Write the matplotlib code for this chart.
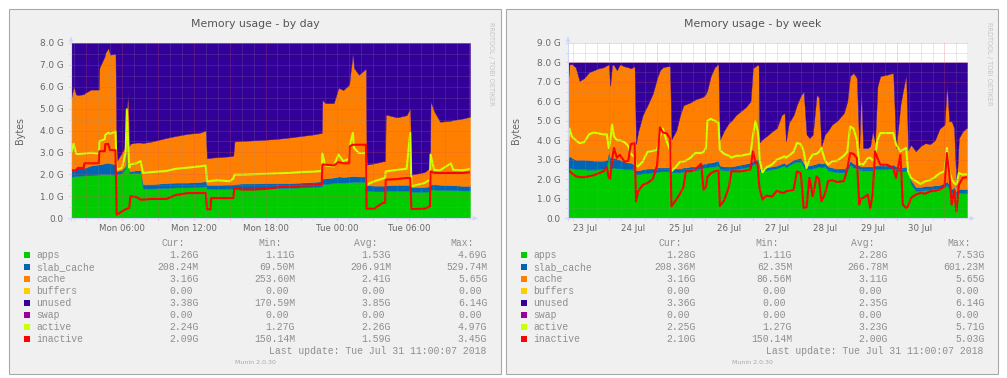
"""
Munin memory graphs (by day / by week) redrawn with matplotlib.
"""
import numpy as np
import matplotlib.pyplot as plt
from matplotlib.lines import Line2D
from matplotlib.patches import Rectangle, Polygon

W, H, DPI = 1007, 378, 100
MEM_TOTAL = 8.0  # GB, "unused" is what is left of it

SERIES = ["apps", "slab_cache", "cache", "buffers", "unused", "swap", "active", "inactive"]
SERIES_COLORS = ["#00CC00", "#0066B3", "#FF8000", "#FFCC00", "#330099", "#990099", "#CCFF00", "#FF0000"]

# ---------------- by day (hours since Mon 00:00), values in GB ----------------
DAY_HOURS = [
    1.73, 1.95, 2.15, 2.30, 2.80, 2.85, 3.40, 4.05, 4.10, 4.55,
    4.60, 4.85, 5.00, 5.45, 5.55, 6.00, 6.30, 6.40, 6.50, 6.60,
    6.70, 7.20, 7.55, 7.75, 8.50, 9.70, 10.50, 11.50, 12.50, 13.00,
    13.10, 13.40, 13.45, 14.00, 15.00, 15.30, 15.40, 16.00, 17.00, 18.00,
    19.00, 20.00, 21.00, 22.00, 22.70, 22.75, 23.00, 23.70, 24.10, 24.50,
    25.00, 25.05, 25.30, 25.40, 25.80, 26.40, 26.45, 27.10, 27.80, 28.00,
    28.05, 29.00, 29.80, 30.10, 30.20, 31.30, 31.75, 31.80, 32.10, 32.60,
    33.50, 33.70, 34.50, 35.10]
DAY_APPS = [
    1.88, 1.90, 1.92, 1.92, 1.95, 1.95, 1.95, 1.98, 2.00, 2.00,
    2.00, 2.00, 2.00, 1.98, 2.00, 2.05, 2.30, 4.69, 3.00, 2.05,
    2.05, 2.05, 2.05, 1.35, 1.35, 1.37, 1.40, 1.40, 1.42, 1.45,
    1.33, 1.33, 1.33, 1.32, 1.33, 1.33, 1.34, 1.34, 1.34, 1.36,
    1.37, 1.38, 1.40, 1.42, 1.45, 1.55, 1.55, 1.60, 1.62, 1.62,
    1.63, 1.63, 1.65, 1.65, 1.65, 1.65, 1.25, 1.22, 1.22, 1.22,
    1.25, 1.25, 1.25, 1.25, 1.20, 1.20, 1.22, 1.30, 1.30, 1.28,
    1.27, 1.27, 1.26, 1.26]
DAY_SLAB = [
    0.32, 0.35, 0.33, 0.36, 0.35, 0.35, 0.45, 0.47, 0.45, 0.50,
    0.52, 0.53, 0.50, 0.48, 0.15, 0.15, 0.10, 0.06, 0.10, 0.10,
    0.10, 0.13, 0.13, 0.20, 0.20, 0.23, 0.22, 0.22, 0.23, 0.23,
    0.19, 0.19, 0.19, 0.20, 0.20, 0.20, 0.21, 0.24, 0.24, 0.24,
    0.23, 0.22, 0.22, 0.23, 0.23, 0.25, 0.27, 0.25, 0.28, 0.26,
    0.27, 0.27, 0.27, 0.27, 0.25, 0.25, 0.25, 0.26, 0.26, 0.26,
    0.25, 0.27, 0.27, 0.27, 0.22, 0.22, 0.23, 0.25, 0.25, 0.24,
    0.23, 0.23, 0.21, 0.21]
DAY_CACHE = [
    3.24, 3.75, 3.40, 3.34, 3.36, 3.40, 3.47, 3.42, 4.41, 4.90,
    5.03, 5.24, 4.97, 5.04, 0.45, 0.80, 0.90, 0.25, 2.60, 1.15,
    1.25, 1.27, 1.27, 1.88, 1.95, 2.06, 2.13, 2.23, 2.25, 2.32,
    1.22, 1.22, 1.24, 1.26, 1.29, 1.32, 1.95, 1.94, 1.97, 1.98,
    2.02, 2.08, 2.13, 2.17, 2.21, 3.60, 3.43, 3.40, 4.05, 3.97,
    4.20, 4.50, 5.63, 4.94, 4.65, 4.93, 0.94, 1.02, 1.11, 1.12,
    3.23, 3.08, 3.18, 3.51, 0.56, 0.68, 0.84, 3.78, 3.33, 2.88,
    2.95, 2.98, 3.08, 3.16]
DAY_ACTIVE = [
    2.94, 3.40, 2.95, 2.92, 2.95, 2.95, 2.98, 2.95, 3.50, 3.60,
    3.80, 3.90, 3.85, 3.95, 2.20, 2.30, 3.00, 4.97, 3.50, 2.30,
    2.45, 2.50, 2.60, 2.06, 2.10, 2.15, 2.25, 2.30, 2.36, 2.40,
    1.68, 1.68, 1.70, 1.72, 1.68, 1.80, 1.98, 1.98, 2.00, 2.02,
    2.04, 2.06, 2.10, 2.12, 2.15, 2.95, 2.40, 2.36, 2.90, 2.60,
    2.70, 3.30, 3.89, 3.20, 2.97, 2.97, 1.52, 1.68, 1.80, 1.83,
    2.13, 2.20, 2.25, 3.89, 1.45, 1.60, 1.75, 2.90, 2.20, 2.18,
    2.50, 2.20, 2.18, 2.24]
DAY_INACTIVE = [
    2.18, 2.18, 2.18, 2.29, 2.29, 2.50, 2.50, 2.50, 3.05, 3.05,
    3.38, 3.38, 3.10, 3.10, 0.15, 0.30, 0.40, 0.42, 0.45, 0.46,
    1.00, 0.96, 0.84, 0.84, 0.87, 0.87, 1.05, 1.14, 1.14, 1.14,
    0.40, 0.40, 0.91, 0.91, 0.91, 0.91, 1.37, 1.30, 1.30, 1.33,
    1.40, 1.45, 1.48, 1.50, 1.52, 2.44, 2.44, 2.40, 2.55, 2.50,
    2.50, 3.28, 3.35, 3.35, 3.35, 3.35, 0.43, 0.43, 0.69, 0.69,
    1.75, 1.78, 1.83, 1.83, 0.41, 0.43, 0.53, 2.13, 2.06, 2.06,
    2.06, 2.06, 2.06, 2.09]
DAY_TICKS = [6, 12, 18, 24, 30]
DAY_TICK_LABELS = ["Mon 06:00", "Mon 12:00", "Mon 18:00", "Tue 00:00", "Tue 06:00"]

# ---------------- by week (days since Jul 23 00:00), values in GB ----------------
WEEK_DAYS = [
    0.14, 0.17, 0.22, 0.30, 0.38, 0.48, 0.58, 0.68, 0.78, 0.88,
    0.95, 0.99, 1.02, 1.06, 1.10, 1.16, 1.22, 1.32, 1.40, 1.45,
    1.53, 1.56, 1.60, 1.70, 1.80, 1.91, 2.00, 2.06, 2.12, 2.20,
    2.27, 2.30, 2.40, 2.48, 2.55, 2.60, 2.70, 2.80,
    2.92, 2.97, 3.02, 3.05, 3.12, 3.20, 3.28, 3.31, 3.40, 3.50,
    3.55, 3.65, 3.75, 3.85, 3.95, 4.00, 4.05, 4.10, 4.12, 4.14,
    4.20, 4.28, 4.40, 4.50, 4.60, 4.66, 4.69, 4.75, 4.85, 4.92,
    5.00, 5.06, 5.12, 5.18, 5.25, 5.33, 5.38, 5.43, 5.50, 5.57,
    5.65, 5.76, 5.90, 5.97, 6.03, 6.10, 6.17, 6.22, 6.26, 6.30,
    6.40, 6.45, 6.50, 6.55, 6.60, 6.66, 6.80, 6.93, 6.99, 7.08,
    7.13, 7.20, 7.24, 7.30, 7.40, 7.50, 7.60, 7.70, 7.80, 7.90,
    8.00, 8.05, 8.10, 8.15, 8.20, 8.25, 8.30, 8.38, 8.47]
WEEK_APPS = [
    2.55, 2.60, 2.55, 2.50, 2.50, 2.50, 2.48, 2.48, 2.50, 2.50,
    2.60, 3.30, 2.55, 2.55, 2.60, 2.55, 2.55, 2.50, 2.50, 2.50,
    2.45, 2.25, 2.25, 2.30, 2.30, 2.35, 2.35, 2.40, 2.40, 2.40,
    2.40, 2.35, 2.35, 2.35, 2.40, 2.40, 2.45, 2.45,
    2.55, 2.60, 2.60, 2.60, 2.65, 2.65, 2.70, 2.50, 2.45, 2.45,
    2.45, 2.50, 2.55, 2.60, 2.65, 2.75, 2.80, 2.80, 7.53, 2.40,
    2.40, 2.45, 2.50, 2.55, 2.65, 2.70, 2.60, 2.70, 2.85, 2.90,
    2.90, 2.60, 2.50, 2.50, 2.55, 2.60, 2.65, 2.60, 2.65, 2.45,
    2.40, 2.35, 2.35, 2.45, 2.74, 2.60, 2.57, 2.50, 2.45, 2.45,
    2.45, 2.45, 2.45, 2.50, 2.50, 2.50, 2.50, 2.55, 2.45, 2.40,
    2.40, 2.45, 2.40, 1.75, 1.40, 1.40, 1.45, 1.45, 1.48, 1.50,
    1.60, 1.70, 1.50, 1.30, 1.40, 1.15, 1.30, 1.28, 1.28]
WEEK_SLAB = [
    0.50, 0.60, 0.55, 0.50, 0.50, 0.50, 0.50, 0.47, 0.45, 0.45,
    0.40, 0.15, 0.55, 0.55, 0.50, 0.50, 0.45, 0.40, 0.35, 0.35,
    0.30, 0.20, 0.20, 0.20, 0.25, 0.20, 0.25, 0.20, 0.20, 0.20,
    0.20, 0.20, 0.20, 0.20, 0.20, 0.20, 0.20, 0.20,
    0.20, 0.20, 0.20, 0.25, 0.20, 0.25, 0.25, 0.20, 0.20, 0.20,
    0.20, 0.20, 0.20, 0.20, 0.20, 0.20, 0.20, 0.20, 0.10, 0.15,
    0.15, 0.15, 0.15, 0.15, 0.15, 0.15, 0.15, 0.15, 0.15, 0.15,
    0.20, 0.20, 0.20, 0.20, 0.20, 0.20, 0.20, 0.20, 0.20, 0.20,
    0.20, 0.20, 0.20, 0.20, 0.21, 0.20, 0.18, 0.20, 0.20, 0.20,
    0.20, 0.20, 0.20, 0.20, 0.20, 0.20, 0.20, 0.20, 0.20, 0.20,
    0.20, 0.20, 0.20, 0.20, 0.20, 0.20, 0.20, 0.20, 0.20, 0.20,
    0.20, 0.20, 0.20, 0.20, 0.20, 0.20, 0.20, 0.21, 0.21]
WEEK_CACHE = [
    3.95, 4.70, 4.82, 4.75, 4.05, 4.20, 4.52, 4.65, 4.75, 4.80,
    4.85, 4.45, 3.70, 4.80, 4.75, 4.55, 4.90, 4.90, 4.90, 4.85,
    5.05, 1.35, 1.95, 2.80, 3.25, 3.85, 4.60, 5.00, 5.15, 5.20,
    5.20, 1.50, 1.95, 2.75, 3.20, 3.25, 3.30, 3.45,
    3.45, 3.45, 3.60, 3.75, 4.45, 4.85, 4.97, 1.33, 1.85, 2.25,
    2.35, 2.60, 2.75, 2.90, 3.15, 4.75, 4.80, 4.89, 0.20, 1.35,
    1.50, 1.60, 1.80, 1.93, 2.50, 2.55, 1.19, 2.04, 2.30, 2.78,
    3.20, 3.70, 1.60, 1.41, 1.54, 3.54, 3.35, 0.90, 1.44, 1.85,
    2.20, 2.45, 2.85, 3.35, 4.35, 4.66, 4.45, 0.90, 4.04, 0.95,
    0.95, 1.05, 1.81, 1.20, 4.07, 4.60, 4.67, 4.71, 0.95, 3.23,
    3.90, 4.72, 0.90, 1.82, 1.83, 2.10, 2.20, 2.15, 2.32, 2.90,
    3.00, 4.96, 3.27, 3.47, 3.03, 0.25, 2.61, 2.97, 3.16]
WEEK_ACTIVE = [
    3.70, 4.60, 4.20, 4.00, 3.85, 3.90, 4.30, 4.40, 4.35, 4.30,
    4.30, 3.60, 3.90, 4.80, 4.20, 4.00, 4.00, 3.90, 3.70, 3.30,
    3.15, 2.70, 2.65, 2.90, 3.40, 3.45, 3.50, 4.20, 4.60, 3.95,
    3.50, 2.40, 2.65, 2.90, 2.90, 2.95, 3.10, 3.35,
    3.34, 3.40, 3.60, 5.00, 5.10, 5.00, 4.90, 3.50, 3.30, 3.20,
    3.10, 3.20, 3.20, 3.26, 3.30, 4.20, 4.97, 4.50, 4.00, 3.00,
    2.35, 2.60, 2.75, 3.00, 3.10, 3.17, 3.10, 3.20, 3.40, 3.86,
    3.80, 3.43, 2.57, 3.00, 3.26, 3.30, 3.40, 3.60, 3.00, 2.74,
    2.91, 2.95, 3.20, 3.40, 4.71, 4.60, 4.03, 2.74, 2.80, 2.74,
    3.08, 3.10, 2.95, 3.10, 4.00, 4.37, 4.37, 4.37, 3.77, 3.43,
    3.50, 3.60, 2.40, 2.06, 1.90, 1.75, 1.89, 1.95, 2.10, 2.30,
    2.40, 3.60, 2.40, 2.00, 1.80, 1.71, 2.31, 2.23, 2.25]
WEEK_INACTIVE = [
    3.00, 2.40, 2.30, 2.15, 2.10, 2.10, 2.15, 2.20, 2.30, 2.40,
    2.60, 2.10, 2.00, 3.00, 3.60, 3.10, 3.25, 2.90, 2.95, 3.80,
    3.85, 0.85, 1.35, 1.70, 1.80, 2.00, 2.70, 4.66, 4.40, 4.35,
    4.10, 0.60, 0.95, 1.25, 1.60, 2.40, 2.40, 2.50,
    2.80, 1.45, 1.60, 2.10, 2.30, 2.40, 2.45, 0.62, 0.90, 1.60,
    2.40, 2.40, 2.40, 2.45, 2.50, 3.43, 2.90, 2.74, 2.00, 1.50,
    0.95, 1.15, 1.10, 1.40, 1.30, 1.30, 1.37, 1.40, 1.45, 2.40,
    2.30, 0.51, 0.55, 2.06, 1.11, 2.14, 2.00, 0.86, 1.20, 1.89,
    1.95, 1.85, 1.90, 2.50, 3.34, 3.30, 3.09, 0.69, 1.00, 1.03,
    1.20, 0.51, 1.20, 3.43, 3.09, 2.74, 2.74, 2.57, 2.06, 3.26,
    0.69, 0.51, 0.60, 1.03, 1.20, 1.29, 1.25, 1.37, 1.40, 1.46,
    1.63, 3.34, 2.30, 0.69, 1.40, 0.34, 1.71, 2.06, 2.10]
WEEK_TICKS = [0.5, 1.5, 2.5, 3.5, 4.5, 5.5, 6.5, 7.5]
WEEK_TICK_LABELS = ["23 Jul", "24 Jul", "25 Jul", "26 Jul", "27 Jul", "28 Jul", "29 Jul", "30 Jul"]

# ---------------- legend tables ----------------
DAY_CUR = ["1.26G", "208.24M", "3.16G", "0.00", "3.38G", "0.00", "2.24G", "2.09G"]
DAY_MIN = ["1.11G", "69.50M", "253.60M", "0.00", "170.59M", "0.00", "1.27G", "150.14M"]
DAY_AVG = ["1.53G", "206.91M", "2.41G", "0.00", "3.85G", "0.00", "2.26G", "1.59G"]
DAY_MAX = ["4.69G", "529.74M", "5.65G", "0.00", "6.14G", "0.00", "4.97G", "3.45G"]
WEEK_CUR = ["1.28G", "208.36M", "3.16G", "0.00", "3.36G", "0.00", "2.25G", "2.10G"]
WEEK_MIN = ["1.11G", "62.35M", "86.56M", "0.00", "0.00", "0.00", "1.27G", "150.14M"]
WEEK_AVG = ["2.28G", "266.78M", "3.11G", "0.00", "2.35G", "0.00", "3.23G", "2.00G"]
WEEK_MAX = ["7.53G", "601.23M", "5.65G", "0.00", "6.14G", "0.00", "5.71G", "5.03G"]
LAST_UPDATE = "Last update: Tue Jul 31 11:00:07 2018"

FONT_COL = "#666666"
AXIS_COL = "#CFD6F8"
MONO = dict(family="Liberation Mono", fontsize=7.0, color="#8E8E8E")
CHAR_W = 0.6 * 7.0 * DPI / 72.0

fig = plt.figure(figsize=(W / DPI, H / DPI), dpi=DPI)
fig.patch.set_facecolor("white")


def ftxt(x, y, s, **kw):
    return fig.text(x / W, 1 - y / H, s, **kw)


def fline(xs, ys, **kw):
    fig.add_artist(Line2D([x / W for x in xs], [1 - y / H for y in ys], **kw))


def draw_panel(ox, title, t, apps, slab, cache, active, inactive, ymax,
               xlim, xticks, xlabels, minor_step, major_step, stats):
    n = len(t)
    assert all(len(a) == n for a in (apps, slab, cache, active, inactive)), title

    # panel background
    fig.add_artist(Rectangle(((9 + ox) / W, 1 - 374 / H), 492 / W, 365 / H,
                             facecolor="#F0F0F0", edgecolor="#A9A9A9", lw=0.8,
                             zorder=-10, transform=fig.transFigure))

    ax = fig.add_axes([(71 + ox) / W, (H - 218) / H, 399 / W, 175 / H])
    ax.set_facecolor("white")
    t = np.array(t)
    apps, slab, cache = np.array(apps), np.array(slab), np.array(cache)
    unused = MEM_TOTAL - apps - slab - cache
    ax.stackplot(t, apps, slab, cache, unused,
                 colors=[SERIES_COLORS[0], SERIES_COLORS[1], SERIES_COLORS[2], SERIES_COLORS[4]],
                 lw=0.3, edgecolor="face")
    ax.plot(t, active, color=SERIES_COLORS[6], lw=1.5, zorder=3)
    ax.plot(t, inactive, color=SERIES_COLORS[7], lw=1.5, zorder=4)
    ax.set_xlim(*xlim)
    ax.set_ylim(0, ymax)
    for sp in ax.spines.values():
        sp.set_visible(False)

    # rrdtool-like dotted grid drawn over the data
    dots = (0, (1, 1))
    for y in np.arange(0.5, ymax + 0.01, 0.5):
        major = abs(y - round(y)) < 1e-6
        ax.axhline(y, xmin=-2 / 399, xmax=1, clip_on=False, lw=0.72, ls=dots, zorder=6,
                   color="#DE5050" if major else "#8F8F8F", alpha=0.45 if major else 0.4)
    for x in np.arange(np.ceil(xlim[0] / minor_step) * minor_step, xlim[1], minor_step):
        major = abs(x / major_step - round(x / major_step)) < 1e-6
        ax.axvline(x, ymin=-2 / 175, ymax=1, clip_on=False, lw=0.72, ls=dots, zorder=6,
                   color="#DE5050" if major else "#8F8F8F", alpha=0.45 if major else 0.4)

    yt = np.arange(0, ymax + 0.01, 1.0)
    ax.set_yticks(yt)
    ax.set_yticklabels(["0.0" if v == 0 else f"{v:.1f} G" for v in yt])
    ax.set_xticks(xticks)
    ax.set_xticklabels(xlabels)
    ax.tick_params(axis="y", length=0, pad=5.4, labelsize=6.4, labelcolor=FONT_COL)
    ax.tick_params(axis="x", length=0, pad=4.0, labelsize=6.2, labelcolor=FONT_COL)

    # axes with arrows
    fline([71 + ox, 71 + ox], [220, 41], color=AXIS_COL, lw=0.8, zorder=3)
    fline([68 + ox, 473 + ox], [218.3, 218.3], color=AXIS_COL, lw=0.8, zorder=3)
    fig.add_artist(Polygon([((68.5 + ox) / W, 1 - 41.7 / H), ((73.5 + ox) / W, 1 - 41.7 / H),
                            ((71 + ox) / W, 1 - 36.5 / H)], closed=True, facecolor=AXIS_COL,
                           edgecolor="none", transform=fig.transFigure, zorder=3))
    fig.add_artist(Polygon([((472.7 + ox) / W, 1 - 215.8 / H), ((472.7 + ox) / W, 1 - 220.8 / H),
                            ((477.8 + ox) / W, 1 - 218.3 / H)], closed=True, facecolor=AXIS_COL,
                           edgecolor="none", transform=fig.transFigure, zorder=3))

    # texts
    ftxt(255.5 + ox, 24, title, ha="center", va="center", fontsize=7.8, color="#555555",
         family="DejaVu Sans")
    ftxt(19.5 + ox, 130, "Bytes", ha="center", va="center", rotation=90, fontsize=6.9,
         color=FONT_COL, family="DejaVu Sans")
    ftxt(491.5 + ox, 64, "RRDTOOL / TOBI OETIKER", ha="center", va="center", rotation=270,
         fontsize=4.7, color="#C4C4C4", family="DejaVu Sans")

    # legend
    col_right = [198.5, 295.0, 391.0, 487.3]
    for hx, head in zip([173.5, 270.5, 366.0, 462.0], ["Cur:", "Min:", "Avg:", "Max:"]):
        ftxt(hx + ox, 243.3, head, ha="center", va="center", **MONO)
    for i, (name, col) in enumerate(zip(SERIES, SERIES_COLORS)):
        y = 255.3 + 12.0 * i
        fig.add_artist(Rectangle(((24 + ox) / W, 1 - (y + 3) / H), 6 / W, 6 / H,
                                 facecolor=col, edgecolor="none", transform=fig.transFigure))
        ftxt(36.5 + ox, y, name, ha="left", va="center", **MONO)
        for xr, column in zip(col_right, stats):
            s = column[i]
            shift = 0 if s[-1].isalpha() else CHAR_W
            ftxt(xr - shift + ox, y, s, ha="right", va="center", **MONO)
    ftxt(486.5 + ox, 351.3, LAST_UPDATE, ha="right", va="center", **MONO)
    ftxt(255 + ox, 362, "Munin 2.0.30", ha="center", va="center", fontsize=4.5,
         color="#A8A8A8", family="DejaVu Sans")


draw_panel(0, "Memory usage - by day", DAY_HOURS, DAY_APPS, DAY_SLAB, DAY_CACHE,
           DAY_ACTIVE, DAY_INACTIVE, 8, (1.73, 35.1), DAY_TICKS, DAY_TICK_LABELS,
           1.0, 3.0, [DAY_CUR, DAY_MIN, DAY_AVG, DAY_MAX])
draw_panel(497, "Memory usage - by week", WEEK_DAYS, WEEK_APPS, WEEK_SLAB, WEEK_CACHE,
           WEEK_ACTIVE, WEEK_INACTIVE, 9, (0.14, 8.47), WEEK_TICKS, WEEK_TICK_LABELS,
           0.25, 1.0, [WEEK_CUR, WEEK_MIN, WEEK_AVG, WEEK_MAX])

fig.savefig("out.png", dpi=DPI)
